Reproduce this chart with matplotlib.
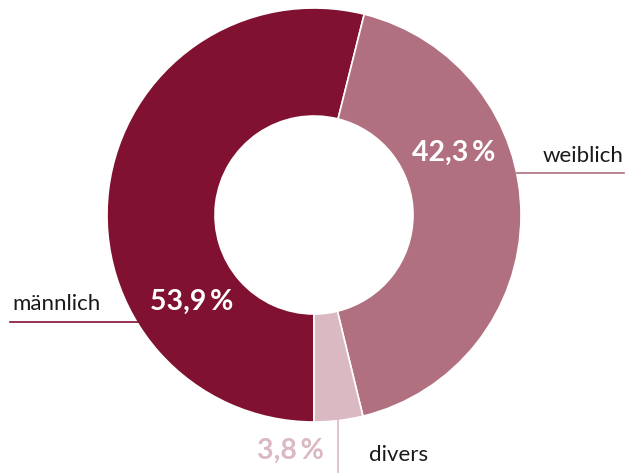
import matplotlib
matplotlib.use("Agg")
import matplotlib.pyplot as plt

labels = ["männlich", "weiblich", "divers"]
values = [53.9, 42.3, 3.8]
pct_text = ["53,9\u2009%", "42,3\u2009%", "3,8\u2009%"]
colors = ["#801131", "#b1707f", "#dbb9c2"]

W, H = 625, 473
fig = plt.figure(figsize=(W / 100, H / 100), dpi=100)
ax = fig.add_axes([0, 0, 1, 1])

cx, cy = 314, H - 215
R, r_in = 207, 99

ax.pie(values, colors=colors, startangle=270, counterclock=False,
       center=(cx, cy), radius=R, frame=True,
       wedgeprops=dict(width=R - r_in, edgecolor="white", linewidth=1.2))
ax.set_xlim(0, W)
ax.set_ylim(0, H)
ax.set_aspect("equal")
ax.axis("off")

fam = ["Lato", "DejaVu Sans"]

# percent labels
ax.text(192, H - 302, pct_text[0], color="white", fontsize=20.5, fontweight="bold",
        family=fam, ha="center", va="center")
ax.text(454, H - 153, pct_text[1], color="white", fontsize=20.5, fontweight="bold",
        family=fam, ha="center", va="center")
ax.text(290, H - 451, pct_text[2], color=colors[2], fontsize=20.5, fontweight="bold",
        family=fam, ha="center", va="center")

# category labels with leader lines
ax.text(56, H - 304, labels[0], color="#1a1a1a", fontsize=16, family=fam,
        ha="center", va="center")
ax.plot([10, 138], [H - 322, H - 322], color=colors[0], lw=1.2)

ax.text(583, H - 156, labels[1], color="#1a1a1a", fontsize=16, family=fam,
        ha="center", va="center")
ax.plot([517, 624], [H - 173, H - 173], color=colors[1], lw=1.2)

ax.text(399, H - 455, labels[2], color="#1a1a1a", fontsize=16, family=fam,
        ha="center", va="center")
ax.plot([338, 338], [H - 418, 0], color=colors[2], lw=1.2)

fig.savefig("out.png", dpi=100)
